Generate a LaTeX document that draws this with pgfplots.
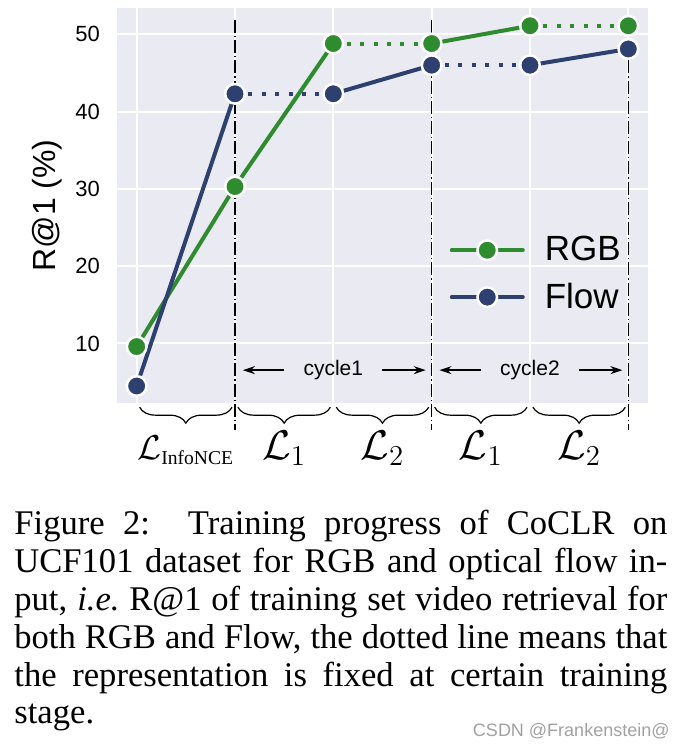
\documentclass[border=0pt]{standalone}
\usepackage{fontspec}
\setmainfont{Liberation Sans}
\newfontfamily\capfont{Liberation Serif}
\usepackage{pgfplots}
\pgfplotsset{compat=1.18}
\usetikzlibrary{decorations.pathreplacing,arrows.meta}

\definecolor{rgbc}{RGB}{46,139,46}
\definecolor{flowc}{RGB}{45,64,112}
\definecolor{bgc}{RGB}{234,234,242}

\pgfplotsset{
  rgbl/.style={rgbc, line width=2pt, no markers, forget plot},
  flowl/.style={flowc, line width=2pt, no markers, forget plot},
  dots/.style={dash pattern=on 2pt off 4.7pt},
  pts/.style={only marks, mark=*, mark size=4.9pt, draw=white, fill=#1, line width=1.25pt, forget plot},
  stage/.style={black, line width=0.7pt, dash pattern=on 6.5pt off 1.5pt on 0.6pt off 1.5pt, forget plot},
}

\begin{document}
\begin{tikzpicture}
\useasboundingbox (0pt,0pt) rectangle (342pt,373pt);
\begin{axis}[
  at={(58.5pt,171.5pt)}, anchor=south west,
  width=265.5pt, height=197.5pt, scale only axis,
  xmin=-0.2, xmax=5.2, ymin=2.3, ymax=53.4,
  xtick={0,1,2,3,4,5}, xticklabels={},
  ytick={10,20,30,40,50},
  grid=major, grid style={white, line width=1pt},
  axis line style={draw=none}, major tick length=0pt,
  axis background/.style={fill=bgc},
  tick label style={font=\fontsize{11}{12}\selectfont},
  /pgf/number format/assume math mode=true,
  yticklabel style={xshift=-5pt},
  ylabel={R@1 (\%)},
  ylabel style={font=\fontsize{16}{18}\selectfont, at={(axis description cs:-0.132,0.5)}, anchor=center},
  clip=false,
  legend image code/.code={\draw[mark repeat=2,mark phase=2,#1] plot coordinates {(0pt,0pt) (17.75pt,0pt) (35.5pt,0pt)};},
  legend cell align=left,
  legend style={at={(axis cs:3.18,19.0)}, anchor=west, draw=none, fill=none,
    inner sep=0pt, font=\fontsize{17.5}{20}\selectfont,
    row sep=9.5pt, column sep=10pt, nodes={inner sep=0pt}},
]
% RGB
\addplot[rgbl] coordinates {(0,9.6) (1,30.3) (2,48.8)};
\addplot[rgbl, dots] coordinates {(2,48.8) (3,48.8)};
\addplot[rgbl] coordinates {(3,48.8) (4,51.1)};
\addplot[rgbl, dots] coordinates {(4,51.1) (5,51.1)};
% Flow
\addplot[flowl] coordinates {(0,4.5) (1,42.3)};
\addplot[flowl, dots] coordinates {(1,42.3) (2,42.3)};
\addplot[flowl] coordinates {(2,42.3) (3,46.0)};
\addplot[flowl, dots] coordinates {(3,46.0) (4,46.0)};
\addplot[flowl] coordinates {(4,46.0) (5,48.1)};
% markers
\addplot[pts=rgbc] coordinates {(0,9.6) (1,30.3) (2,48.8) (3,48.8) (4,51.1) (5,51.1)};
\addplot[pts=flowc] coordinates {(0,4.5) (1,42.3) (2,42.3) (3,46.0) (4,46.0) (5,48.1)};
% stage boundaries
\addplot[stage] coordinates {(1,51.85) (1,-1.2)};
\addplot[stage] coordinates {(3,51.85) (3,-1.2)};
\addplot[stage] coordinates {(5,51.85) (5,-1.2)};

\addlegendimage{rgbc, line width=2pt, line cap=round, mark=*, mark size=4.9pt, mark options={fill=rgbc, draw=white, line width=1.25pt}}
\addlegendentry{RGB}
\addlegendimage{flowc, line width=2pt, line cap=round, mark=*, mark size=4.9pt, mark options={fill=flowc, draw=white, line width=1.25pt}}
\addlegendentry{Flow}

% cycles
\node[anchor=mid, font=\fontsize{10.5}{12}\selectfont] at (axis cs:2,6.55) {cycle1};
\node[anchor=mid, font=\fontsize{10.5}{12}\selectfont] at (axis cs:4,6.55) {cycle2};
\draw[-{Stealth[length=6pt,width=4pt]}, line width=0.7pt] (axis cs:1.50,6.55) -- (axis cs:1.08,6.55);
\draw[-{Stealth[length=6pt,width=4pt]}, line width=0.7pt] (axis cs:2.50,6.55) -- (axis cs:2.94,6.55);
\draw[-{Stealth[length=6pt,width=4pt]}, line width=0.7pt] (axis cs:3.50,6.55) -- (axis cs:3.08,6.55);
\draw[-{Stealth[length=6pt,width=4pt]}, line width=0.7pt] (axis cs:4.50,6.55) -- (axis cs:4.94,6.55);

% braces
\draw[decorate, decoration={brace, mirror, amplitude=8pt}, line width=0.6pt] (axis cs:0.03,1.76) -- (axis cs:0.97,1.76);
\draw[decorate, decoration={brace, mirror, amplitude=8pt}, line width=0.6pt] (axis cs:1.03,1.76) -- (axis cs:1.97,1.76);
\draw[decorate, decoration={brace, mirror, amplitude=8pt}, line width=0.6pt] (axis cs:2.03,1.76) -- (axis cs:2.97,1.76);
\draw[decorate, decoration={brace, mirror, amplitude=8pt}, line width=0.6pt] (axis cs:3.03,1.76) -- (axis cs:3.97,1.76);
\draw[decorate, decoration={brace, mirror, amplitude=8pt}, line width=0.6pt] (axis cs:4.03,1.76) -- (axis cs:4.97,1.76);

\node[anchor=base, font=\fontsize{16}{18}\selectfont] at (axis cs:0.5,-5.0) {$\mathcal{L}_{\mbox{\capfont\fontsize{9.8}{11}\selectfont InfoNCE}}$};
\node[anchor=base, font=\fontsize{19.2}{21}\selectfont] at (axis cs:1.5,-5.0) {$\mathcal{L}_1$};
\node[anchor=base, font=\fontsize{19.2}{21}\selectfont] at (axis cs:2.5,-5.0) {$\mathcal{L}_2$};
\node[anchor=base, font=\fontsize{19.2}{21}\selectfont] at (axis cs:3.5,-5.0) {$\mathcal{L}_1$};
\node[anchor=base, font=\fontsize{19.2}{21}\selectfont] at (axis cs:4.5,-5.0) {$\mathcal{L}_2$};
\end{axis}

\node[anchor=base west, inner sep=0pt, text width=326.5pt, align=justify,
      font=\capfont\fontsize{17.3}{18.9}\selectfont] at (7pt,105.5pt)
  {Figure 2:\hspace{1.1em}Training progress of CoCLR on\linebreak
   UCF101 dataset for RGB and optical flow in-\linebreak
   put, \textit{i.e.}\ R@1 of training set video retrieval for\linebreak
   both RGB and Flow, the dotted line means that\linebreak
   the representation is fixed at certain training\linebreak
   stage.};
\node[anchor=base east, inner sep=0pt, font=\fontsize{9}{10}\selectfont, text=black!37] at (335pt,5pt) {CSDN @Frankenstein@};
\end{tikzpicture}
\end{document}
